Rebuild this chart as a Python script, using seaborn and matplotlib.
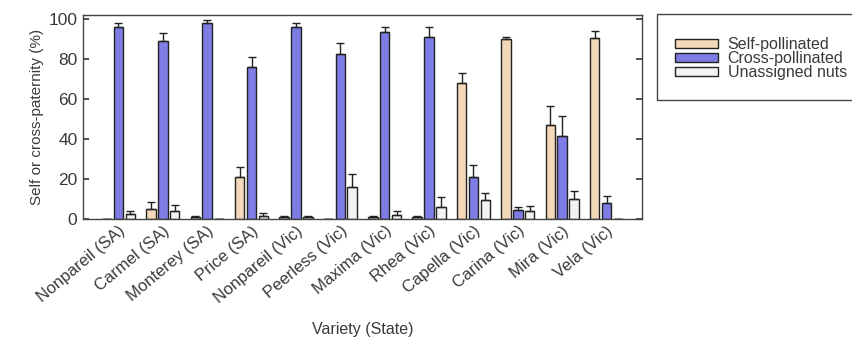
import numpy as np
import pandas as pd
import seaborn as sns
import matplotlib
matplotlib.use("Agg")
import matplotlib.pyplot as plt
from matplotlib.patches import Rectangle

varieties = ["Nonpareil (SA)", "Carmel (SA)", "Monterey (SA)", "Price (SA)",
             "Nonpareil (Vic)", "Peerless (Vic)", "Maxima (Vic)", "Rhea (Vic)",
             "Capella (Vic)", "Carina (Vic)", "Mira (Vic)", "Vela (Vic)"]
series = ["Self-pollinated", "Cross-pollinated", "Unassigned nuts"]

self_vals = [0, 5, 1, 21, 1, 0, 1, 1, 68, 90, 47, 90.5]
self_err = [0, 3.5, 0.5, 5, 0.5, 0, 0.5, 0.5, 5, 1, 9.5, 3.5]
cross_vals = [96, 89, 98, 76, 96, 82.5, 93.5, 91, 21, 4.5, 41.5, 8]
cross_err = [2, 4, 1.5, 5, 2, 5.5, 2.5, 5, 6, 1.5, 10, 3.5]
unas_vals = [2.5, 4, 0, 1.5, 1, 16, 2, 6, 9.5, 4, 10, 0]
unas_err = [1.5, 3, 0, 1.5, 0.5, 6.5, 2, 5, 3.5, 2.5, 4, 0]

colors = ["#FCD9B1", "#6C6CF6", "#F2F2F2"]

df = pd.DataFrame({
    "Variety": varieties * 3,
    "Type": [s for s in series for _ in varieties],
    "Value": self_vals + cross_vals + unas_vals,
})
errs = [self_err, cross_err, unas_err]

sns.set_theme(style="white")
plt.rcParams["font.family"] = ["Liberation Sans", "DejaVu Sans"]
textc = "#3a3a3a"

fig = plt.figure(figsize=(8.52, 3.38), dpi=100)
ax = fig.add_axes([83/852, 1-219/338, (642-83)/852, (219-15)/338])

sns.barplot(data=df, x="Variety", y="Value", hue="Type", palette=colors,
            width=0.8, gap=0.2, edgecolor="#222222", linewidth=1.0, ax=ax,
            errorbar=None, legend=True)

for cont, e in zip(ax.containers, errs):
    xs = [p.get_x() + p.get_width()/2 for p in cont]
    hs = [p.get_height() for p in cont]
    ax.errorbar(xs, hs, yerr=[np.zeros(len(e)), e], fmt="none",
                ecolor="#222222", elinewidth=1.0, capsize=3, capthick=1.0)

ax.set_ylim(0, 102)
ax.set_xlim(-0.8, 11.8)
ax.set_yticks([0, 20, 40, 60, 80, 100])
ax.tick_params(axis="y", direction="in", length=4, left=True, right=True,
               labelsize=12.5, colors=textc, labelcolor=textc, pad=4)
ax.tick_params(axis="x", length=0, labelsize=12, labelcolor=textc, pad=3)
plt.setp(ax.get_xticklabels(), rotation=40, ha="right", rotation_mode="anchor")
for sp in ax.spines.values():
    sp.set_color("#444444")
    sp.set_linewidth(1.0)
ax.set_ylabel("Self or cross-paternity (%)", fontsize=11, color=textc, labelpad=3)
ax.set_xlabel("Variety (State)", fontsize=11.5, color=textc, labelpad=12)

h, l = ax.get_legend_handles_labels()
ax.get_legend().remove()
fig.patches.append(Rectangle((657/852, 1-100/338), 0.5, 86/338,
                             transform=fig.transFigure, facecolor="white",
                             edgecolor="#444444", linewidth=1.0))
leg = fig.legend(h, l, loc="upper left", bbox_to_anchor=(667/852, 1-29/338),
                 frameon=False, fontsize=11.5, handlelength=2.7, handleheight=0.5,
                 borderpad=0, labelspacing=-0.05, handletextpad=0.6,
                 labelcolor=textc)

fig.savefig("out.png", dpi=100)
